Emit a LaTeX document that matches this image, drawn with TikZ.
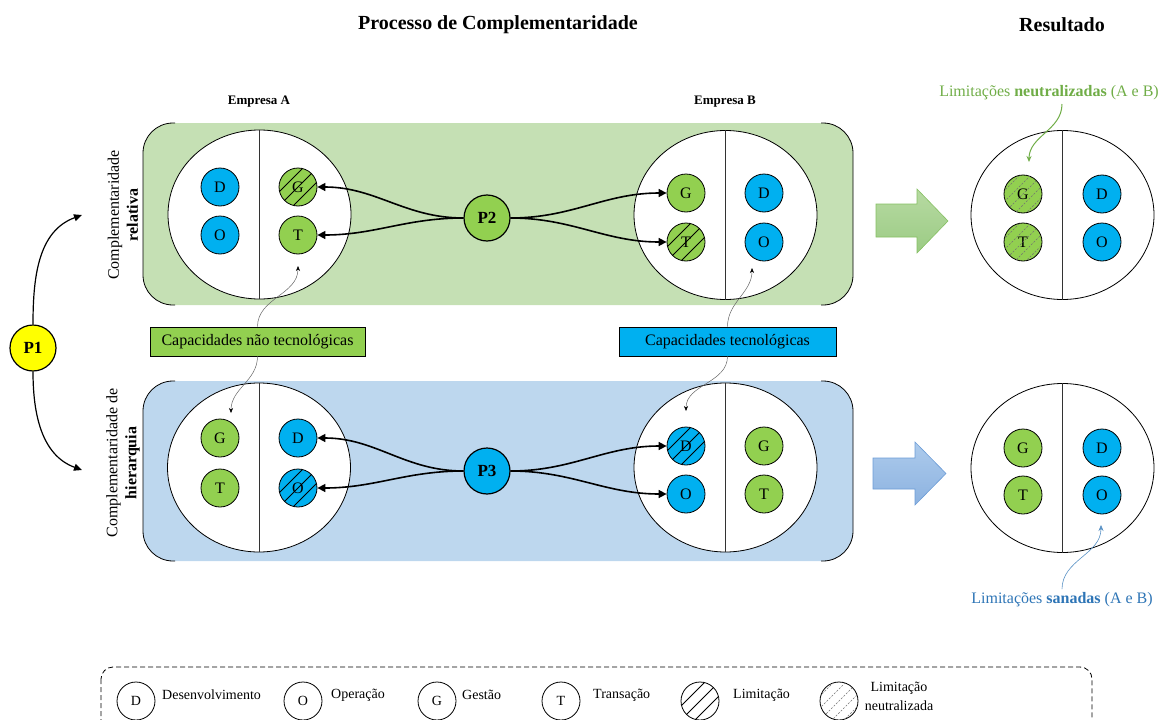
\documentclass[tikz,border=0pt]{standalone}
\usepackage{fontspec}
\setmainfont{Liberation Serif}
\usetikzlibrary{arrows.meta,shapes.geometric,calc}

\definecolor{panelgreen}{HTML}{C5E0B4}
\definecolor{panelblue}{HTML}{BDD7EE}
\definecolor{unitgreen}{HTML}{92D050}
\definecolor{unitblue}{HTML}{00B0F0}
\definecolor{textgreen}{HTML}{70AD47}
\definecolor{textblue}{HTML}{2E75B6}
\definecolor{pyellow}{HTML}{FFFF00}
\definecolor{arrgreentop}{HTML}{B7DAA2}
\definecolor{arrgreenbot}{HTML}{9BCB84}
\definecolor{arrgreenline}{HTML}{86C063}
\definecolor{arrbluetop}{HTML}{ADCBEC}
\definecolor{arrbluebot}{HTML}{8CB2E0}
\definecolor{arrblueline}{HTML}{6C9CD6}

\newcommand\fs[2]{\fontsize{#1}{#2}\selectfont}

% diagonal hatching inside a circle: centre, radius, spacing along x, line style
\newcommand\hatchcircle[4]{%
  \begin{scope}
    \clip (#1) circle (#2);
    \foreach \k in {-4,...,4}
      \draw[#4] ($(#1)+(\k*#3,0)+(-40,-40)$) -- ++(80,80);
  \end{scope}}

\tikzset{
  unit/.style={circle, draw, line width=0.8pt, minimum size=38pt, inner sep=0pt, font=\fs{16}{19}},
  ug/.style={unit, fill=unitgreen},
  ub/.style={unit, fill=unitblue},
  legunit/.style={unit, fill=white, font=\fs{14}{17}},
  firm/.style={ellipse, draw, fill=white, line width=0.8pt, minimum width=183pt, minimum height=169pt, inner sep=0pt},
  divider/.style={line width=0.8pt, black!80},
  pnode/.style={circle, draw, line width=1.2pt, minimum size=46pt, inner sep=0pt, font=\bfseries\fs{17}{20}},
  conn/.style={line width=1.6pt, -{Triangle[length=8pt,width=8pt]}},
  note/.style={draw=black!60, line width=0.5pt, -{Stealth[length=5pt,width=4pt,color=black]}},
  limit/.style={black, line width=0.9pt},
  neutral/.style={black!55, line width=0.4pt, dash pattern=on 2pt off 1.5pt},
  bracket/.style={line width=0.8pt, rounded corners=30pt},
  capbox/.style={draw, line width=0.6pt, minimum height=29pt, inner sep=0pt, font=\fs{16}{19}},
  legtext/.style={anchor=west, inner sep=0pt, font=\fs{14}{17}},
}

\begin{document}
\begin{tikzpicture}[x=1pt,y=1pt]
\useasboundingbox (0,0) rectangle (1171,-720);

% headings
\node[font=\bfseries\fs{20}{24}] (title) at (498,-25) {Processo de Complementaridade};
\node[font=\bfseries\fs{20}{24}] (result) at (1062,-25) {Resultado};
\node[font=\bfseries\fs{13}{16}] (empA) at (259,-102) {Empresa A};
\node[font=\bfseries\fs{13}{16}] (empB) at (725,-102) {Empresa B};

% panels
\fill[panelgreen, rounded corners=30pt] (143,-123) rectangle (853,-305);
\draw[bracket] (175,-123) -- (143,-123) -- (143,-305) -- (175,-305);
\draw[bracket] (821,-123) -- (853,-123) -- (853,-305) -- (821,-305);
\fill[panelblue, rounded corners=30pt] (143,-381) rectangle (853,-561);
\draw[bracket] (175,-381) -- (143,-381) -- (143,-561) -- (175,-561);
\draw[bracket] (821,-381) -- (853,-381) -- (853,-561) -- (821,-561);

% side labels
\node[rotate=90, align=center, font=\fs{16}{19}] (lblrel) at (123,-215) {Complementaridade\\\textbf{relativa}};
\node[rotate=90, align=center, font=\fs{16}{19}] (lblhier) at (123,-463) {Complementaridade de\\\textbf{hierarquia}};

% firms, relative complementarity
\node[firm] (eA1) at (259.5,-214.5) {};
\draw[divider] (eA1.north) -- (eA1.south);
\node[ub] (aD1) at (220,-187) {D};
\node[ub] (aO1) at (220,-235) {O};
\node[ug] (aG1) at (298,-187) {G};
\node[ug] (aT1) at (298,-235) {T};
\hatchcircle{aG1.center}{19}{14}{limit}

\node[firm] (eB1) at (725.5,-215) {};
\draw[divider] (eB1.north) -- (eB1.south);
\node[ug] (bG1) at (686,-193) {G};
\node[ug] (bT1) at (686,-242) {T};
\node[ub] (bD1) at (764,-193) {D};
\node[ub] (bO1) at (764,-242) {O};
\hatchcircle{bT1.center}{19}{14}{limit}

% firms, hierarchy complementarity
\node[firm] (eA2) at (259,-467.5) {};
\draw[divider] (eA2.north) -- (eA2.south);
\node[ug] (aG2) at (220,-438) {G};
\node[ug] (aT2) at (220,-488) {T};
\node[ub] (aD2) at (298,-438) {D};
\node[ub] (aO2) at (298,-488) {O};
\hatchcircle{aO2.center}{19}{14}{limit}

\node[firm] (eB2) at (725.5,-467.5) {};
\draw[divider] (eB2.north) -- (eB2.south);
\node[ub] (bD2) at (686,-446) {D};
\node[ub] (bO2) at (686,-494) {O};
\node[ug] (bG2) at (764,-446) {G};
\node[ug] (bT2) at (764,-494) {T};
\hatchcircle{bD2.center}{19}{14}{limit}

% propositions
\node[pnode, fill=pyellow] (P1) at (33,-348) {P1};
\node[pnode, fill=unitgreen] (P2) at (487,-218) {P2};
\node[pnode, fill=unitblue] (P3) at (487,-471) {P3};

\coordinate (relin) at (82,-215);
\coordinate (hierin) at (82,-470);
\draw[line width=1.2pt, -{Triangle[length=8pt,width=7pt]}] (P1.north) to[out=90,in=200] (relin);
\draw[line width=1.2pt, -{Triangle[length=8pt,width=7pt]}] (P1.south) to[out=-90,in=160] (hierin);

\draw[conn] (P2.west) to[out=180,in=0] (aG1.east);
\draw[conn] (P2.west) to[out=180,in=0] (aT1.east);
\draw[conn] (P2.east) to[out=0,in=180] (bG1.west);
\draw[conn] (P2.east) to[out=0,in=180] (bT1.west);
\draw[conn] (P3.west) to[out=180,in=0] (aD2.east);
\draw[conn] (P3.west) to[out=180,in=0] (aO2.east);
\draw[conn] (P3.east) to[out=0,in=180] (bD2.west);
\draw[conn] (P3.east) to[out=0,in=180] (bO2.west);

% capability labels
\node[capbox, fill=unitgreen, minimum width=215pt] (capA) at (257.5,-341.5) {Capacidades não tecnológicas};
\node[capbox, fill=unitblue, minimum width=217pt] (capB) at (727.5,-341.5) {Capacidades tecnológicas};
\coordinate (nA1) at (298,-266);
\coordinate (nA2) at (231,-413);
\coordinate (nB1) at (752,-268);
\coordinate (nB2) at (686,-411);
\draw[note] (capA.north) to[out=90,in=-90] (nA1);
\draw[note] (capA.south) to[out=-90,in=90] (nA2);
\draw[note] (capB.north) to[out=90,in=-90] (nB1);
\draw[note] (capB.south) to[out=-90,in=90] (nB2);

% block arrows towards the results
\draw[draw=arrgreenline, top color=arrgreentop, bottom color=arrgreenbot, line width=0.6pt]
  (876,-204) -- (917,-204) -- (917,-189) -- (948,-221) -- (917,-253) -- (917,-237) -- (876,-237) -- cycle;
\draw[draw=arrblueline, top color=arrbluetop, bottom color=arrbluebot, line width=0.6pt]
  (873,-458) -- (915,-458) -- (915,-442) -- (946,-473.5) -- (915,-505) -- (915,-489) -- (873,-489) -- cycle;

% results
\node[firm] (eR1) at (1062.5,-215) {};
\draw[divider] (eR1.north) -- (eR1.south);
\node[ug] (rG1) at (1023,-194) {G};
\node[ug] (rT1) at (1023,-242) {T};
\node[ub] (rD1) at (1102,-194) {D};
\node[ub] (rO1) at (1102,-242) {O};
\hatchcircle{rG1.center}{19}{11}{neutral}
\hatchcircle{rT1.center}{19}{11}{neutral}

\node[firm] (eR2) at (1062.5,-468) {};
\draw[divider] (eR2.north) -- (eR2.south);
\node[ug] (rG2) at (1023,-448) {G};
\node[ug] (rT2) at (1023,-495) {T};
\node[ub] (rD2) at (1102,-448) {D};
\node[ub] (rO2) at (1102,-495) {O};

\node[text=textgreen, font=\fs{16}{19}] (neutxt) at (1049,-93) {Limitações \textbf{neutralizadas} (A e B)};
\coordinate (neustart) at (1062,-104);
\coordinate (neutip) at (1029,-162);
\draw[textgreen, line width=1pt, -{Stealth[length=6pt,width=5pt]}] (neustart) to[out=-90,in=90] (neutip);

\node[text=textblue, font=\fs{16}{19}] (santxt) at (1062,-600) {Limitações \textbf{sanadas} (A e B)};
\coordinate (santip) at (1101,-525);
\draw[textblue!80, line width=0.6pt, -{Stealth[length=6pt,width=5pt]}] (santxt.north) to[out=90,in=-90] (santip);

% legend
\draw[line width=0.8pt, dash pattern=on 5pt off 3pt, rounded corners=12pt] (101,-667) rectangle (1092,-740);
\node[legunit] (lgD) at (136,-701) {D};
\node[legtext] (lgDt) at (162,-695) {Desenvolvimento};
\node[legunit] (lgO) at (303,-701) {O};
\node[legtext] (lgOt) at (331,-695) {Operação};
\node[legunit] (lgG) at (437,-701) {G};
\node[legtext] (lgGt) at (462,-695) {Gestão};
\node[legunit] (lgT) at (561,-701) {T};
\node[legtext] (lgTt) at (593,-695) {Transação};
\node[legunit] (lgL) at (700,-701) {};
\hatchcircle{lgL.center}{19}{14}{limit}
\node[legtext] (lgLt) at (733,-695) {Limitação};
\node[legunit] (lgN) at (839,-701) {};
\hatchcircle{lgN.center}{19}{12}{neutral}
\node[align=center, inner sep=0pt, font=\fs{14}{19}] (lgNt) at (899,-696) {Limitação\\neutralizada};
\end{tikzpicture}
\end{document}
